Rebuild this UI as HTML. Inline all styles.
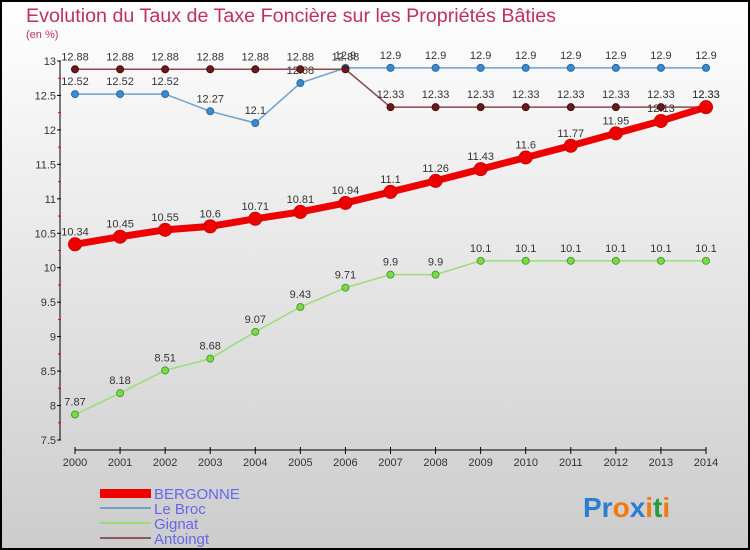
<!DOCTYPE html>
<html><head><meta charset="utf-8"><style>
body{margin:0;width:750px;height:550px;overflow:hidden;font-family:"Liberation Sans",sans-serif}
svg{display:block}
text{font-family:"Liberation Sans",sans-serif}
</style></head><body>
<svg id="c" width="750" height="550">
<defs><linearGradient id="bg" x1="0" y1="0" x2="0" y2="1"><stop offset="0" stop-color="#ffffff"/><stop offset="1" stop-color="#cccccc"/></linearGradient></defs>
<rect x="1" y="1" width="748" height="548" fill="url(#bg)" stroke="#000" stroke-width="2"/>
<text x="26" y="22" font-size="19.7" fill="#c0305a">Evolution du Taux de Taxe Foncière sur les Propriétés Bâties</text>
<text x="26" y="38" font-size="11" fill="#c0305a">(en %)</text>
<g id="axes"></g><g id="series"></g>
<g>
<rect x="100" y="489" width="51" height="9" fill="#e00"/>
<text x="154" y="499" font-size="15" fill="#6666ee">BERGONNE</text>
<line x1="100" y1="508" x2="151" y2="508" stroke="#6fa0c8" stroke-width="2"/>
<text x="154" y="514" font-size="15" fill="#6666ee">Le Broc</text>
<line x1="100" y1="523" x2="151" y2="523" stroke="#99dd77" stroke-width="2"/>
<text x="154" y="529" font-size="15" fill="#6666ee">Gignat</text>
<line x1="100" y1="538" x2="151" y2="538" stroke="#8a5a5a" stroke-width="2"/>
<text x="154" y="544" font-size="15" fill="#6666ee">Antoingt</text>
</g>
<text x="583" y="517" font-size="28" font-weight="bold"><tspan fill="#2a7fd0">Pr</tspan><tspan fill="#f07a10">o</tspan><tspan fill="#2a7fd0">x</tspan><tspan fill="#f07a10">i</tspan><tspan fill="#2a9a40">t</tspan><tspan fill="#f07a10">i</tspan></text>
</svg>
<script>
const years=[2000,2001,2002,2003,2004,2005,2006,2007,2008,2009,2010,2011,2012,2013,2014];
const bergonne=[10.34,10.45,10.55,10.6,10.71,10.81,10.94,11.1,11.26,11.43,11.6,11.77,11.95,12.13,12.33];
const leBroc=[12.52,12.52,12.52,12.27,12.1,12.68,12.9,12.9,12.9,12.9,12.9,12.9,12.9,12.9,12.9];
const gignat=[7.87,8.18,8.51,8.68,9.07,9.43,9.71,9.9,9.9,10.1,10.1,10.1,10.1,10.1,10.1];
const antoingt=[12.88,12.88,12.88,12.88,12.88,12.88,12.88,12.33,12.33,12.33,12.33,12.33,12.33,12.33,12.33];
const yTicks=[7.5,8,8.5,9,9.5,10,10.5,11,11.5,12,12.5,13];
const NS='http://www.w3.org/2000/svg';
const X=i=>75+i*(706-75)/14;
const Y=v=>440-(v-7.5)*(440-61)/5.5;
function mk(t,a,p){const e=document.createElementNS(NS,t);for(const k in a)e.setAttribute(k,a[k]);p.appendChild(e);return e;}
const ax=document.getElementById('axes'),sg=document.getElementById('series');
let yl=mk('line',{x1:60,y1:61,x2:60,y2:440,stroke:'#000','stroke-width':1},ax);


yTicks.forEach(v=>{
 mk('line',{x1:57,x2:61,y1:Y(v),y2:Y(v),stroke:'#000'},ax);
 if(v<13)mk('line',{x1:58,x2:61,y1:Y(v+0.25),y2:Y(v+0.25),stroke:'#e00'},ax);
 let t=mk('text',{x:56,y:Y(v)+4,'font-size':11,'text-anchor':'end',fill:'#333'},ax);t.textContent=String(v);
 
 
});
let xl=mk('line',{x1:75,y1:450,x2:706,y2:450,stroke:'#000'},ax);


years.forEach((y,i)=>{
 mk('line',{x1:X(i),x2:X(i),y1:447,y2:454,stroke:'#000'},ax);
 let t=mk('text',{x:X(i),y:466,'font-size':11,'text-anchor':'middle',fill:'#333'},ax);t.textContent=y;
 
 
});
function series(d,name,line,w,dot,r,stroke){
 const g=mk('g',{},sg);
 
 
 mk('polyline',{points:d.map((v,i)=>X(i)+','+Y(v)).join(' '),fill:'none',stroke:line,'stroke-width':w},g);
 d.forEach((v,i)=>{
  const c=mk('circle',{cx:X(i),cy:Y(v),r:r,fill:dot,stroke:stroke,'stroke-width':1},g);
  
  
  const t=mk('text',{x:X(i),y:Y(v)-9,'font-size':11,'text-anchor':'middle',fill:'#333'},g);
  t.textContent=String(v);
  
  
 });
}
series(gignat,'gignat','#99dd77',1.5,'#77dd44',3.5,'#559933');
series(leBroc,'le-broc','#6fa0c8',1.5,'#3a8ad0',3.5,'#2a6aa0');
series(antoingt,'antoingt','#8a4a4a',1.5,'#6a1a1a',3.5,'#4a0a0a');
series(bergonne,'bergonne','#ee0000',7,'#ee0000',6.5,'#cc0000');
</script>
</body></html>
